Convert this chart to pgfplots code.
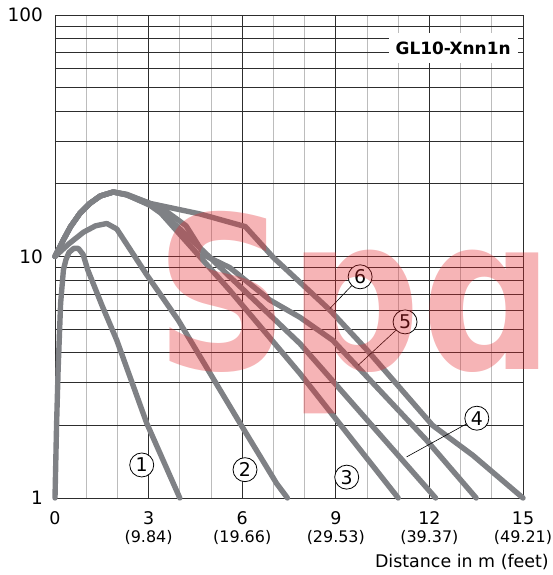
\documentclass[border=0pt]{standalone}
\usepackage{fontspec}
\setmainfont{DejaVu Sans}
\newfontfamily\wmfont{DejaVu Sans}
\usepackage{graphicx}
\usepackage{pgfplots}
\pgfplotsset{compat=1.18}

\definecolor{curvegray}{RGB}{127,129,133}
\definecolor{gridlight}{RGB}{188,188,188}
\definecolor{griddark}{RGB}{45,45,45}
\definecolor{wmred}{RGB}{228,40,45}

\newcommand\subfont{\fontsize{16}{18}\selectfont}

\pgfplotsset{
  curve/.style={curvegray, line width=5.4pt, line join=round, line cap=round, no marks},
}
\tikzset{
  num/.style={circle, draw=black, line width=0.8pt, fill=white, inner sep=0pt,
              minimum size=24bp, font=\fontsize{19}{19}\selectfont},
  leader/.style={black, line width=0.6pt},
}

\begin{document}
\begin{tikzpicture}
\begin{axis}[
  name=ax,
  scale only axis,
  width=468bp, height=483bp,
  xmin=0, xmax=15,
  ymode=log, ymin=1, ymax=100,
  clip=false,
  xtick={0,3,6,9,12,15},
  xticklabels={0,{3\\\subfont(9.84)},{6\\\subfont(19.66)},{9\\\subfont(29.53)},{12\\\subfont(39.37)},{15\\\subfont(49.21)}},
  minor xtick={1,2,4,5,7,8,10,11,13,14},
  ytick={1,10,100},
  yticklabels={1,10,100},
  minor ytick={2,3,4,5,6,7,8,9,20,30,40,50,60,70,80,90},
  grid=both,
  major x grid style={griddark, line width=0.7pt},
  minor x grid style={gridlight, line width=0.7pt},
  major y grid style={griddark, line width=0.7pt},
  minor y grid style={griddark, line width=0.7pt},
  major tick length=0pt, minor tick length=0pt,
  axis line style={griddark, line width=0.9pt},
  xticklabel style={align=center, font=\fontsize{17.5}{18}\selectfont, inner sep=0pt, anchor=north, yshift=-13.5bp},
  yticklabel style={font=\fontsize{18.5}{19}\selectfont, inner sep=0pt, anchor=east, xshift=-12bp},
]
% curve 1
\addplot[curve] coordinates {(0,1) (0.05,2.0) (0.1,3.4) (0.18,6.4) (0.27,8.8) (0.35,9.7) (0.45,10.4) (0.6,10.8) (0.75,10.8) (0.9,10.2) (1.05,8.8) (1.5,6.3) (1.98,4.5) (2.94,2.04) (4.0,1)};
% curve 2
\addplot[curve] coordinates {(0,10) (0.45,11.3) (0.91,12.6) (1.3,13.4) (1.66,13.7) (1.98,13.0) (2.94,8.4) (3.95,5.45) (5.93,2.04) (7.1,1.15) (7.45,1)};
% curve 3
\addplot[curve] coordinates {(0,10) (0.25,11.6) (0.5,13.3) (0.8,15.1) (1.12,16.6) (1.45,17.8) (1.87,18.5) (2.3,18.0) (3.04,16.3) (3.4,15.1) (5.6,7.25) (7.85,3.28) (11.0,1)};
% curve 4
\addplot[curve] coordinates {(0,10) (0.25,11.6) (0.5,13.3) (0.8,15.1) (1.12,16.6) (1.45,17.8) (1.87,18.5) (2.3,18.0) (3.04,16.4) (3.4,15.4) (4.8,10.4) (5.6,8.25) (7.85,4.36) (12.2,1)};
% curve 5
\addplot[curve] coordinates {(0,10) (0.25,11.6) (0.5,13.3) (0.8,15.1) (1.12,16.6) (1.45,17.8) (1.87,18.5) (2.3,18.0) (3.04,16.6) (3.5,15.6) (4.2,13.4) (4.8,10.1) (5.6,9.0) (6.89,6.6) (7.85,5.6) (8.9,4.5) (11.9,1.74) (13.5,1)};
% curve 6
\addplot[curve] coordinates {(0,10) (0.25,11.6) (0.5,13.3) (0.8,15.1) (1.12,16.6) (1.45,17.8) (1.87,18.5) (2.3,18.1) (3.04,16.6) (4.65,15.0) (6.1,13.3) (7.0,9.9) (8.81,6.0) (10.0,4.1) (12.1,2.0) (13.4,1.5) (15,1)};

\node[num] at (axis cs:2.78,1.37) {1};
\node[num] at (axis cs:6.09,1.31) {2};
\node[num] at (axis cs:9.35,1.22) {3};
\node[num] (n4) at (axis cs:13.52,2.14) {4};
\node[num] (n5) at (axis cs:11.22,5.36) {5};
\node[num] (n6) at (axis cs:9.78,8.24) {6};
\draw[leader] (axis cs:11.27,1.48) -- (n4);
\draw[leader] (axis cs:9.72,3.55) -- (n5);
\draw[leader] (axis cs:8.81,6.09) -- (n6);

\node[fill=white, inner xsep=7bp, inner ysep=0pt, minimum height=30bp,
      font=\bfseries\fontsize{17}{17}\selectfont] at (axis cs:12.76,72.8) {GL10-Xnn1n};
\end{axis}

\node[anchor=base east, inner sep=0pt, font=\fontsize{17.5}{18}\selectfont]
  at ([xshift=26bp,yshift=-69bp]ax.south east) {Distance in m (feet)};

% watermark
\node[anchor=base west, inner sep=0pt, text=wmred, text opacity=0.35,
      font=\wmfont\bfseries\fontsize{214}{214}\selectfont]
  at ([xshift=100bp,yshift=128bp]ax.south west) {\scalebox{0.87}[1]{Sp^^^^0251}};

\pgfresetboundingbox
\path[use as bounding box] ([xshift=-55bp,yshift=-77bp]ax.south west) rectangle ([xshift=30bp,yshift=15bp]ax.north east);
\end{tikzpicture}
\end{document}
